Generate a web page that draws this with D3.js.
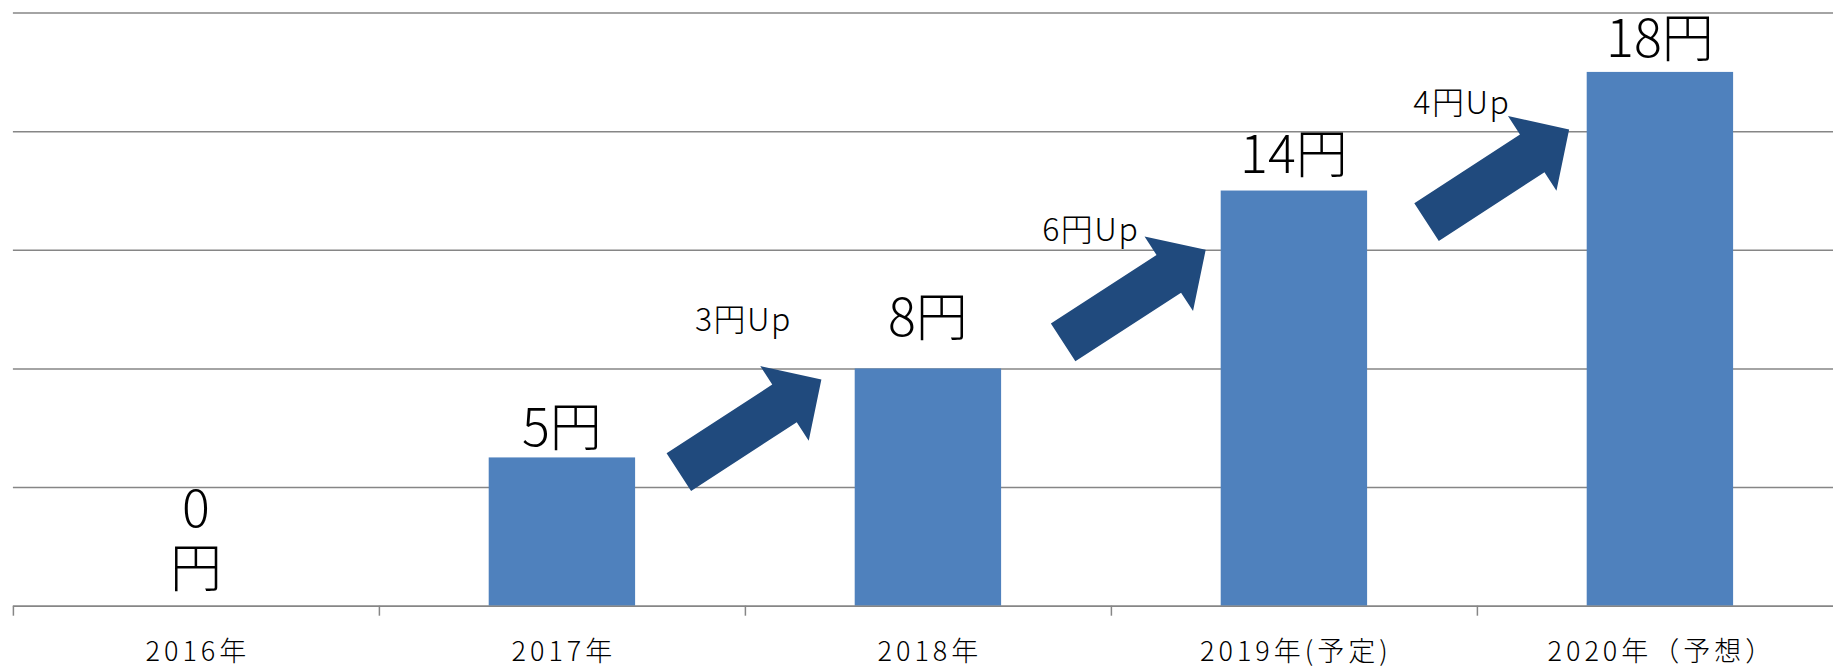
<!DOCTYPE html>
<html><head><meta charset="utf-8">
<script src="https://cdn.jsdelivr.net/npm/d3@7"></script>
<style>
html,body{margin:0;padding:0;background:#fff;}
svg{display:block;font-family:"Noto Sans CJK JP","Noto Sans CJK SC",sans-serif;}
</style></head>
<body>
<svg id="chart" width="1833" height="670"></svg>
<script>
// ---- data ----
const categories = ["2016年", "2017年", "2018年", "2019年(予定)", "2020年（予想）"];
const values = [0, 5, 8, 14, 18];
const valueLabels = ["0円", "5円", "8円", "14円", "18円"];
const yTicks = [0, 4, 8, 12, 16, 20];
// increase annotations (arrows between bars)
const upLabels = ["3円Up", "6円Up", "4円Up"];
const upTipIndex = [2.209, 3.259, 4.252];   // in category-index units
const upTipValue = [7.63, 12.0, 16.06];      // in yen units
const upLabelIndex = [1.996, 2.945, 3.959];
const upLabelValue = [9.26, 12.3, 16.58];

// ---- layout ----
const W = 1833, H = 670;
const x0 = 12.9, step = 366;
const yBase = 605.7, yTop = 12.6;
const labelLift = [0, 11, 32, 18, 14.6];

const svg = d3.select("#chart");
const x = d3.scaleBand().domain(categories).range([x0, x0 + categories.length * step])
  .paddingInner(0.6).paddingOuter(0.3);
const xi = d3.scaleLinear().domain([0, categories.length]).range([x0, x0 + categories.length * step]);
const y = d3.scaleLinear().domain([0, 20]).range([yBase, yTop]);

// gridlines
const grid = svg.append("g").attr("transform", `translate(${x0},0)`)
  .call(d3.axisLeft(y).tickValues(yTicks).tickSize(-(categories.length * step)).tickFormat(""));
grid.select(".domain").remove();
grid.selectAll(".tick line").attr("stroke", "#868686").attr("stroke-width", 1.5);

// bars
svg.append("g").selectAll("rect").data(values).join("rect")
  .attr("x", (d, i) => x(categories[i]))
  .attr("y", d => y(d))
  .attr("width", x.bandwidth())
  .attr("height", d => yBase - y(d))
  .attr("fill", "#4F81BD");

// x axis
const xa = svg.append("g").attr("transform", `translate(0,${yBase})`)
  .call(d3.axisBottom(xi).tickValues(d3.range(categories.length + 1)).tickSize(10).tickSizeOuter(0).tickFormat(""));
xa.select(".domain").attr("stroke", "#868686").attr("stroke-width", 1.5);
xa.selectAll(".tick line").attr("stroke", "#868686").attr("stroke-width", 1.5);

// category labels
svg.append("g").selectAll("text").data(categories).join("text")
  .attr("x", d => x(d) + x.bandwidth() / 2 + 2)
  .attr("y", 661)
  .attr("text-anchor", "middle")
  .attr("font-size", 27)
  .attr("font-weight", 300)
  .attr("letter-spacing", 4)
  .attr("fill", "#000")
  .text(d => d);

// value labels
const vl = svg.append("g");
values.forEach((v, i) => {
  const cx = x(categories[i]) + x.bandwidth() / 2;
  if (v === 0) {
    // label wrapped onto two lines, as in the original
    vl.append("text").attr("x", cx).attr("y", y(v) - 79).attr("text-anchor", "middle")
      .attr("font-size", 52).attr("font-weight", 300).attr("fill", "#000").text(String(v));
    vl.append("text").attr("x", cx).attr("y", y(v) - 19).attr("text-anchor", "middle")
      .attr("font-size", 52).attr("font-weight", 300).attr("fill", "#000").text("円");
  } else {
    vl.append("text").attr("x", cx).attr("y", y(v) - labelLift[i])
      .attr("text-anchor", "middle").attr("font-size", 52).attr("font-weight", 300)
      .attr("fill", "#000").text(valueLabels[i]);
  }
});

// arrows
const L = 170, hl = 44, sw = 22.5, hw = 44.5;
const arrowPath = d3.line()([[-L, -sw], [-hl, -sw], [-hl, -hw], [0, 0], [-hl, hw], [-hl, sw], [-L, sw]]) + "Z";
const ag = svg.append("g");
upLabels.forEach((lab, i) => {
  ag.append("path")
    .attr("d", arrowPath)
    .attr("transform", `translate(${xi(upTipIndex[i])},${y(upTipValue[i])}) rotate(-33)`)
    .attr("fill", "#204A7D");
  ag.append("text")
    .attr("x", xi(upLabelIndex[i]))
    .attr("y", y(upLabelValue[i]))
    .attr("text-anchor", "middle")
    .attr("font-size", 32)
    .attr("font-weight", 300)
    .attr("letter-spacing", 1.5)
    .attr("fill", "#000")
    .text(lab);
});
</script>
</body></html>
